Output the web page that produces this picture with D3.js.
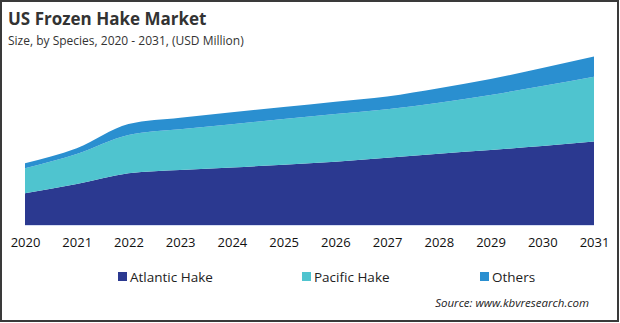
<!DOCTYPE html>
<html lang="en">
<head>
<meta charset="UTF-8">
<title>US Frozen Hake Market</title>
<script src="https://d3js.org/d3.v7.min.js"></script>
<style>
    body { margin: 0; padding: 0; background: #fff; }
    svg { display: block; font-family: "Open Sans", "Liberation Sans", sans-serif; }
</style>
</head>
<body>
<div id="chart"></div>
<script>
    // data (USD Million, approximate)
    var years = ["2020", "2021", "2022", "2023", "2024", "2025", "2026", "2027", "2028", "2029", "2030", "2031"];
    var atlantic = [31.7, 41, 51.7, 55, 57.5, 60.3, 63.3, 67.3, 71.3, 75, 79, 83.5];
    var pacific = [25, 30, 38.3, 40.7, 43.2, 45.7, 47.7, 48.5, 51, 55, 60, 64.8];
    var others = [5, 5.7, 11, 11.6, 12, 12, 12.3, 12.8, 14.5, 16, 18, 20.3];
    var seriesNames = ["Atlantic Hake", "Pacific Hake", "Others"];
    var colors = ["#2b3990", "#4fc4cf", "#2a8fd0"];

    var w = 620, h = 323;

    var table = years.map(function (y, i) {
        return { year: y, "Atlantic Hake": atlantic[i], "Pacific Hake": pacific[i], "Others": others[i] };
    });

    var svg = d3.select("#chart").append("svg")
        .attr("width", w)
        .attr("height", h);

    // frame
    svg.append("rect")
        .attr("x", 1).attr("y", 1)
        .attr("width", w - 3).attr("height", h - 3)
        .attr("fill", "none")
        .attr("stroke", "#3a3a3a")
        .attr("stroke-width", 2);

    svg.append("text")
        .attr("x", 8).attr("y", 25)
        .attr("font-size", 17).attr("font-weight", "bold")
        .attr("fill", "#333")
        .text("US Frozen Hake Market");

    svg.append("text")
        .attr("x", 8).attr("y", 45)
        .attr("font-size", 12)
        .attr("fill", "#333")
        .text("Size, by Species, 2020 - 2031, (USD Million)");

    var x = d3.scalePoint().domain(years).range([25, 594]);
    var y = d3.scaleLinear().domain([0, 169]).range([225, 56]);

    var stack = d3.stack().keys(seriesNames);
    var layers = stack(table);

    var area = d3.area()
        .x(function (d) { return x(d.data.year); })
        .y0(function (d) { return y(d[0]); })
        .y1(function (d) { return y(d[1]); })
        .curve(d3.curveMonotoneX);

    svg.append("g").selectAll("path")
        .data(layers)
        .join("path")
        .attr("d", area)
        .attr("fill", function (d, i) { return colors[i]; });

    // baseline
    svg.append("line")
        .attr("x1", 25).attr("x2", 594)
        .attr("y1", 225.5).attr("y2", 225.5)
        .attr("stroke", "#d6ddf3");

    var xAxis = svg.append("g")
        .attr("transform", "translate(0,226)")
        .call(d3.axisBottom(x).tickSize(0).tickPadding(12));
    xAxis.select(".domain").remove();
    xAxis.selectAll("text")
        .attr("font-size", 13)
        .attr("font-family", "'Open Sans', sans-serif")
        .attr("fill", "#111");

    // legend
    var legendX = [118, 302, 480];
    var legend = svg.append("g").selectAll("g")
        .data(seriesNames)
        .join("g")
        .attr("transform", function (d, i) { return "translate(" + legendX[i] + ",277)"; });
    legend.append("rect")
        .attr("x", 0).attr("y", -5)
        .attr("width", 9).attr("height", 9)
        .attr("fill", function (d, i) { return colors[i]; });
    legend.append("text")
        .attr("x", 12).attr("y", 0)
        .attr("dy", "0.35em")
        .attr("font-size", 13.5)
        .attr("fill", "#222")
        .text(function (d) { return d; });

    svg.append("text")
        .attr("x", 589).attr("y", 307)
        .attr("text-anchor", "end")
        .attr("font-size", 11.5)
        .attr("font-style", "italic")
        .attr("fill", "#222")
        .text("Source: www.kbvresearch.com");
</script>
</body>
</html>
